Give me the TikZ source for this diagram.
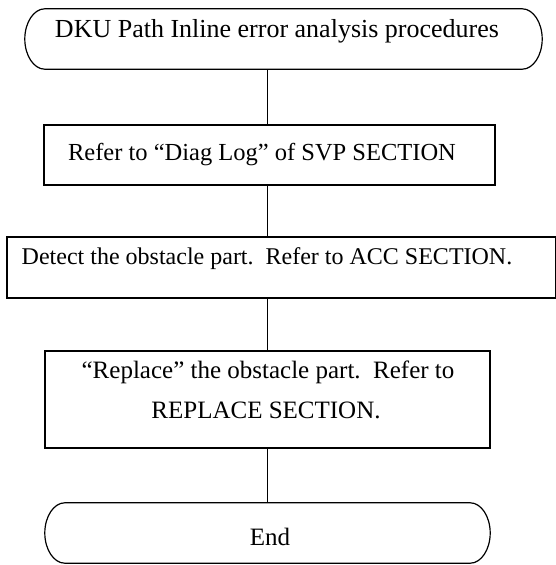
\documentclass[tikz,border=0pt]{standalone}
\usepackage{fontspec}
\setmainfont{Liberation Serif}
\begin{document}
\begin{tikzpicture}[x=1pt,y=-1pt,
  boxstyle/.style={draw, line width=1.2pt, inner sep=0pt},
  frame/.style={inner sep=0pt},
  txt/.style={inner sep=0pt, anchor=base, font=\fontsize{25}{40}\selectfont},
  link/.style={line width=0.9pt}]
\useasboundingbox (0,0) rectangle (555,565);
\coordinate (ax) at (267,0);
% start terminal
\node[frame, minimum width=517pt, minimum height=60pt] (start) at (283.5,39) {};
\draw[line width=1.2pt] ([xshift=20pt]start.north west) -- ([xshift=-20pt]start.north east)
  .. controls ([xshift=-9pt]start.north east) and ([yshift=16.5pt]start.east) .. (start.east)
  .. controls ([yshift=-16.5pt]start.east) and ([xshift=-9pt]start.south east) .. ([xshift=-20pt]start.south east)
  -- ([xshift=20pt]start.south west)
  .. controls ([xshift=9pt]start.south west) and ([yshift=-16.5pt]start.west) .. (start.west)
  .. controls ([yshift=16.5pt]start.west) and ([xshift=9pt]start.north west) .. cycle;
\node[txt, font=\fontsize{26}{40}\selectfont] (t1) at (277,37) {DKU Path Inline error analysis procedures};
% box 2
\node[boxstyle, minimum width=451pt, minimum height=60pt] (b2) at (269.5,155) {};
\node[txt, font=\fontsize{24.5}{40}\selectfont] (t2) at (262,160) {Refer to “Diag Log” of SVP SECTION};
% box 3
\node[boxstyle, minimum width=549pt, minimum height=61pt] (b3) at (281.5,267.5) {};
\node[txt, font=\fontsize{24}{40}\selectfont] (t3) at (267,264) {Detect the obstacle part.\ \ Refer to ACC SECTION.};
% box 4
\node[boxstyle, minimum width=445pt, minimum height=97pt] (b4) at (267.5,399.5) {};
\node[txt] (t4a) at (268,378) {“Replace” the obstacle part.\ \ Refer to};
\node[txt] (t4b) at (266,418) {REPLACE SECTION.};
% end terminal
\node[frame, minimum width=445pt, minimum height=60pt] (fin) at (267.5,533) {};
\draw[line width=1.2pt] ([xshift=20pt]fin.north west) -- ([xshift=-20pt]fin.north east)
  .. controls ([xshift=-9pt]fin.north east) and ([yshift=16.5pt]fin.east) .. (fin.east)
  .. controls ([yshift=-16.5pt]fin.east) and ([xshift=-9pt]fin.south east) .. ([xshift=-20pt]fin.south east)
  -- ([xshift=20pt]fin.south west)
  .. controls ([xshift=9pt]fin.south west) and ([yshift=-16.5pt]fin.west) .. (fin.west)
  .. controls ([yshift=16.5pt]fin.west) and ([xshift=9pt]fin.north west) .. cycle;
\node[txt] (t5) at (270,545) {End};
% connectors
\draw[link] (start.south -| ax) -- (b2.north -| ax);
\draw[link] (b2.south -| ax) -- (b3.north -| ax);
\draw[link] (b3.south -| ax) -- (b4.north -| ax);
\draw[link] (b4.south -| ax) -- (fin.north -| ax);
\end{tikzpicture}
\end{document}
